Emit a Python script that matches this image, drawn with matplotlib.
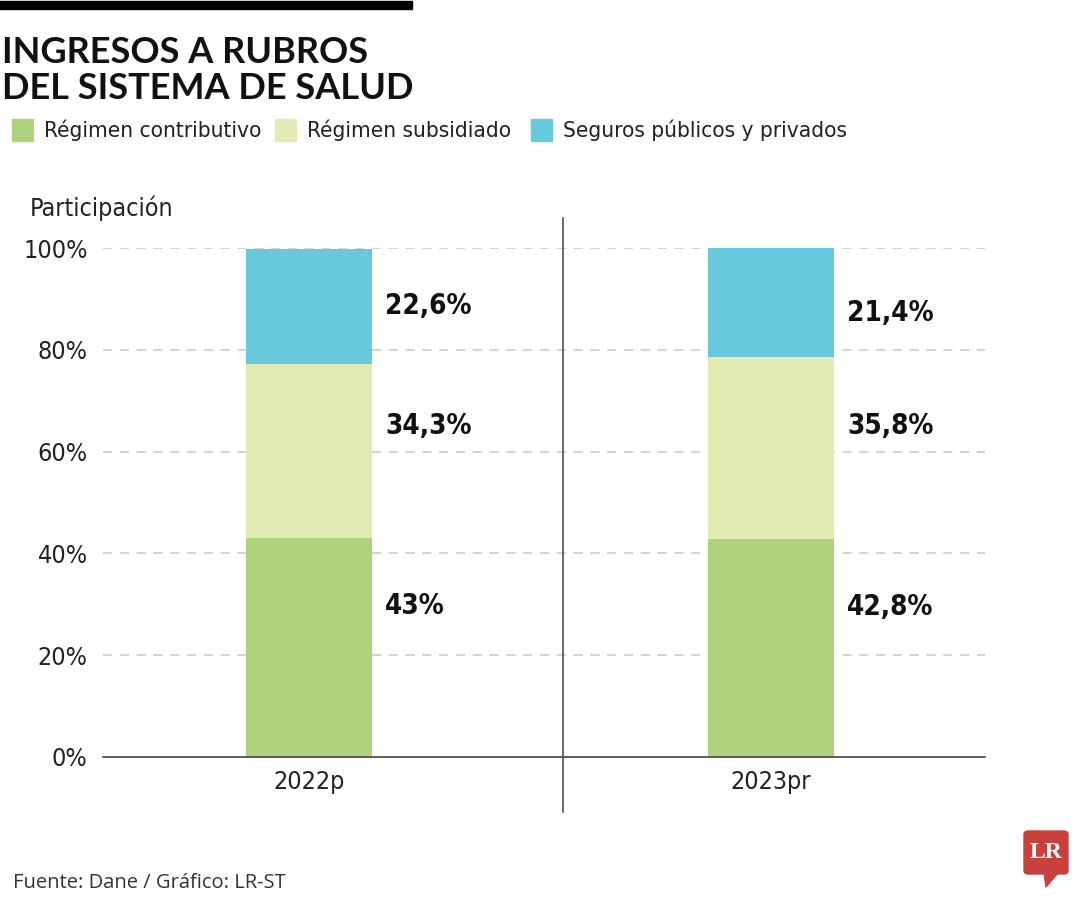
import matplotlib
matplotlib.use("Agg")
import matplotlib.pyplot as plt
from matplotlib.patches import FancyBboxPatch, Polygon, Rectangle

years = ["2022p", "2023pr"]
series_names = ["Régimen contributivo", "Régimen subsidiado", "Seguros públicos y privados"]
contributivo = [43.0, 42.8]
subsidiado = [34.3, 35.8]
seguros = [22.6, 21.4]
value_labels = [["43%", "42,8%"], ["34,3%", "35,8%"], ["22,6%", "21,4%"]]
yticks = [0, 20, 40, 60, 80, 100]

colors = ["#afd27c", "#e3ebb5", "#66c9dd"]
COND = dict(family="DejaVu Sans", fontstretch="condensed")

fig = plt.figure(figsize=(10.8, 9), dpi=100)
ax = fig.add_axes([103 / 1080, 143 / 900, 882 / 1080, 509 / 900])

x = [0, 1]
width = 0.273
bottom = [0, 0]
series = [contributivo, subsidiado, seguros]
# where each label sits inside its segment (fraction of the segment height)
label_frac = [[0.69, 0.69], [0.64, 0.62], [0.50, 0.40]]
for i, vals in enumerate(series):
    ax.bar(x, vals, width, bottom=bottom, color=colors[i], zorder=2)
    for j in range(2):
        ypos = bottom[j] + vals[j] * label_frac[i][j]
        ax.annotate(value_labels[i][j], (x[j] + width / 2, ypos), xytext=(9.5, 0),
                    textcoords="offset points", ha="left", va="center",
                    fontsize=20, fontweight="bold", color="#111111", **COND)
    bottom = [bottom[k] + vals[k] for k in range(2)]

ax.set_xlim(-0.446, 1.463)
ax.set_ylim(0, 100)
ax.set_yticks(yticks)
ax.set_yticklabels([f"{t}%" for t in yticks], fontsize=18, color="#222222", **COND)
ax.set_xticks(x)
ax.set_xticklabels(years, fontsize=18, color="#222222", **COND)
ax.tick_params(length=0, axis="y", pad=11)
ax.tick_params(length=0, axis="x", pad=9)
for t in yticks[1:]:
    ax.axhline(t, color="#c8c8c8", lw=1.1, ls=(0, (6, 5)), zorder=1)
for s in ["top", "right", "left"]:
    ax.spines[s].set_visible(False)
ax.spines["bottom"].set_color("#444444")
ax.spines["bottom"].set_linewidth(1.2)

# divider between the two years
ax.axvline(0.55, ymin=-0.108, ymax=1.059, color="#444444", lw=1.1, clip_on=False)

# title block
fig.add_artist(Rectangle((0, 1 - 9 / 900), 412 / 1080, 8 / 900, color="black",
                         transform=fig.transFigure))
fig.text(2 / 1080, 1 - 63 / 900, "INGRESOS A RUBROS", fontsize=26, fontweight="bold",
         family=["Lato", "DejaVu Sans"], color="#111111")
fig.text(2 / 1080, 1 - 99 / 900, "DEL SISTEMA DE SALUD", fontsize=26, fontweight="bold",
         family=["Lato", "DejaVu Sans"], color="#111111")

leg_x = [12, 275, 531]
for i, name in enumerate(series_names):
    fig.add_artist(Rectangle((leg_x[i] / 1080, 1 - 141 / 900), 21 / 1080, 22 / 900,
                             color=colors[i], transform=fig.transFigure))
    fig.text((leg_x[i] + 32) / 1080, 1 - 130 / 900, name, fontsize=16.2,
             va="center", color="#222222", **COND)

fig.text(30 / 1080, 1 - 208 / 900, "Participación", fontsize=18,
         va="center", color="#222222", **COND)
fig.text(13 / 1080, 1 - 883 / 900, "Fuente: Dane / Gráfico: LR-ST", fontsize=14.5,
         family=["Open Sans", "DejaVu Sans"], va="center", color="#333333")

# LR logo
fig.add_artist(FancyBboxPatch((1024 / 1080, 1 - 874 / 900), 44 / 1080, 43 / 900,
                              boxstyle="round,pad=0,rounding_size=0.004",
                              color="#c9413c", transform=fig.transFigure))
fig.add_artist(Polygon([(1044 / 1080, 1 - 873 / 900), (1058 / 1080, 1 - 873 / 900),
                        (1046 / 1080, 1 - 887 / 900)], closed=True, color="#c9413c",
                       transform=fig.transFigure))
fig.text(1046 / 1080, 1 - 853 / 900, "LR", fontsize=17, fontweight="bold",
         family=["Liberation Serif", "DejaVu Serif"], color="white", ha="center", va="center")

fig.savefig("out.png", dpi=100)
